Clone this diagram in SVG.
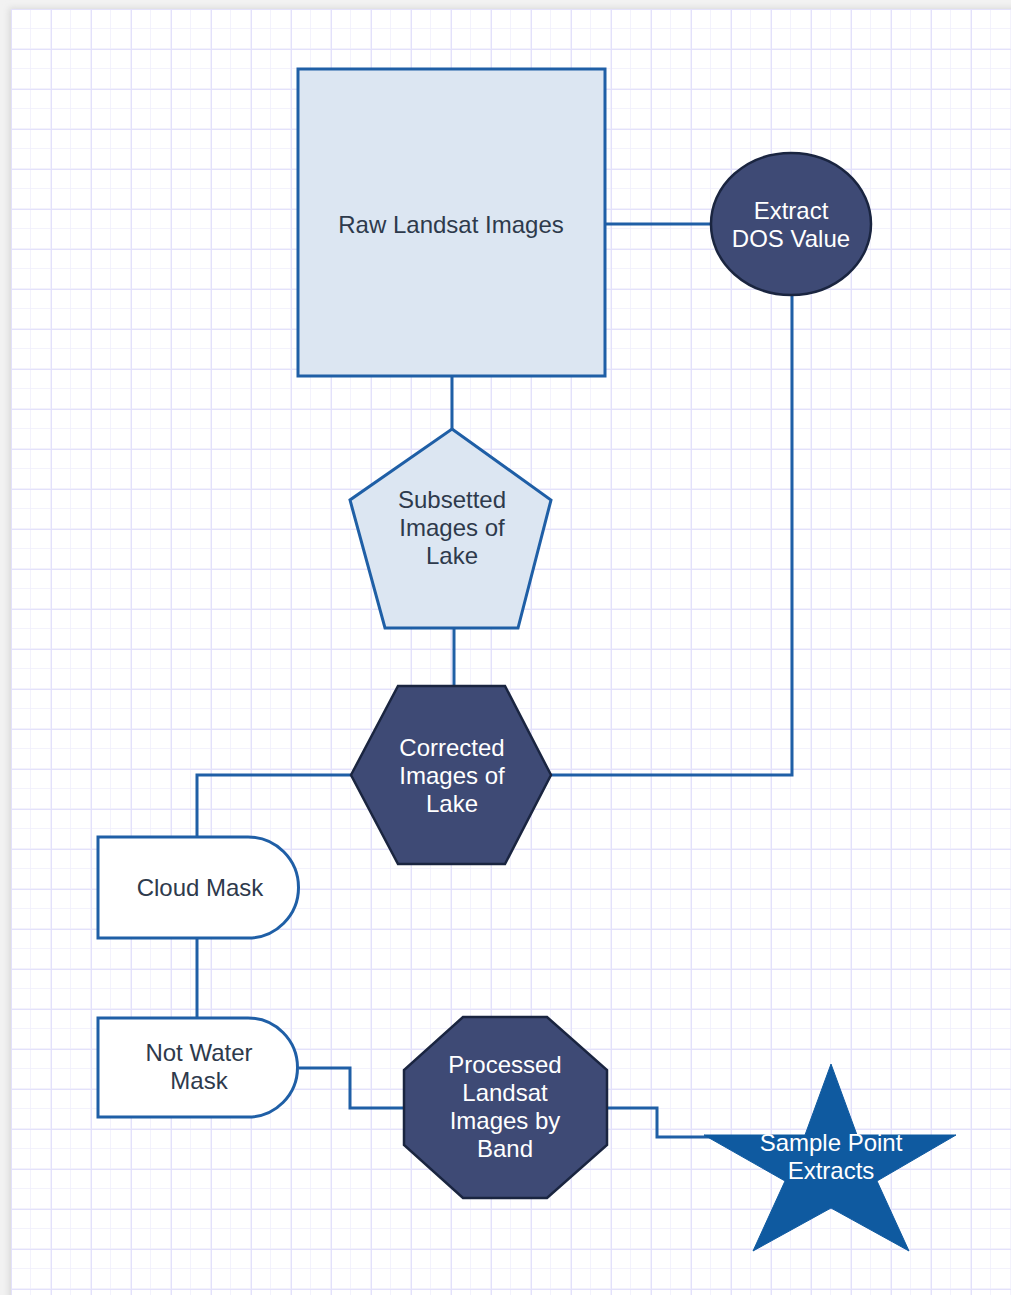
<svg xmlns="http://www.w3.org/2000/svg" width="1011" height="1295" viewBox="0 0 1011 1295">
<defs>
<pattern id="minor" x="11" y="9" width="20" height="20" patternUnits="userSpaceOnUse">
<path d="M20 0V20M0 20H20" fill="none" stroke="#efeefc" stroke-width="1.5"/>
</pattern>
<pattern id="major" x="11" y="9" width="40" height="40" patternUnits="userSpaceOnUse">
<path d="M0 0V40M0 0H40" fill="none" stroke="#e3e1fb" stroke-width="2"/>
</pattern>
<filter id="sh" x="-5%" y="-5%" width="110%" height="110%">
<feGaussianBlur stdDeviation="3"/>
</filter>
</defs>
<style>
.light{fill:#dce6f2;stroke:#1f5fa6;stroke-width:3}
.white{fill:#ffffff;stroke:#1f5fa6;stroke-width:3}
.dark{fill:#3e4a75;stroke:#1a2540;stroke-width:2.5}
.star{fill:#0f5aa0;stroke:#0f5aa0;stroke-width:1}
.conn{fill:none;stroke:#1f5fa6;stroke-width:3}
text{font-family:"Liberation Sans",Arial,sans-serif;font-size:24px;text-anchor:middle;dominant-baseline:central}
.tl{fill:#2e3a4c}
.td{fill:#ffffff}
</style>
<rect width="1011" height="1295" fill="#f2f2f2"/>
<rect x="9" y="8" width="1010" height="1295" fill="#d8d8d8" filter="url(#sh)"/>
<rect x="11" y="9" width="1000" height="1286" fill="#ffffff"/>
<rect x="11" y="9" width="1000" height="1286" fill="url(#minor)"/>
<rect x="11" y="9" width="1000" height="1286" fill="url(#major)"/>

<g id="connectors">
<path class="conn" d="M605 224H711"/>
<path class="conn" d="M792 295V775H551"/>
<path class="conn" d="M452 376V429"/>
<path class="conn" d="M454 628V686"/>
<path class="conn" d="M351 775H197V837"/>
<path class="conn" d="M197 938V1018"/>
<path class="conn" d="M299 1068H350V1108H404"/>
<path class="conn" d="M607 1108H657V1137H712"/>
</g>

<g id="raw-landsat">
<rect class="light" x="298" y="69" width="307" height="307"/>
<text class="tl" x="451" y="224">Raw Landsat Images</text>
</g>

<g id="extract-dos">
<ellipse class="dark" cx="791" cy="224" rx="80" ry="71"/>
<text class="td" x="791" y="210">Extract</text>
<text class="td" x="791" y="238">DOS Value</text>
</g>

<g id="subsetted">
<polygon class="light" points="452,429 551,500 518,628 385,628 350,500"/>
<text class="tl" x="452" y="499">Subsetted</text>
<text class="tl" x="452" y="527">Images of</text>
<text class="tl" x="452" y="555">Lake</text>
</g>

<g id="corrected">
<polygon class="dark" points="351,775 398,686 505,686 551,775 505,864 398,864"/>
<text class="td" x="452" y="747">Corrected</text>
<text class="td" x="452" y="775">Images of</text>
<text class="td" x="452" y="803">Lake</text>
</g>

<g id="cloud-mask">
<path class="white" d="M98 837H248A50.5 50.5 0 0 1 248 938H98Z"/>
<text class="tl" x="200" y="887">Cloud Mask</text>
</g>

<g id="not-water-mask">
<path class="white" d="M98 1018H248A49.5 49.5 0 0 1 248 1117H98Z"/>
<text class="tl" x="199" y="1052">Not Water</text>
<text class="tl" x="199" y="1080">Mask</text>
</g>

<g id="processed">
<polygon class="dark" points="463,1017 547,1017 607,1070 607,1145 547,1198 463,1198 404,1145 404,1070"/>
<text class="td" x="505" y="1064">Processed</text>
<text class="td" x="505" y="1092">Landsat</text>
<text class="td" x="505" y="1120">Images by</text>
<text class="td" x="505" y="1148">Band</text>
</g>

<g id="sample-points">
<polygon class="star" points="831,1064 857,1135 956,1135 877,1181 909,1251 831,1208 753,1251 785,1181 704,1135 805,1135"/>
<text class="td" x="831" y="1142">Sample Point</text>
<text class="td" x="831" y="1170">Extracts</text>
</g>
</svg>
